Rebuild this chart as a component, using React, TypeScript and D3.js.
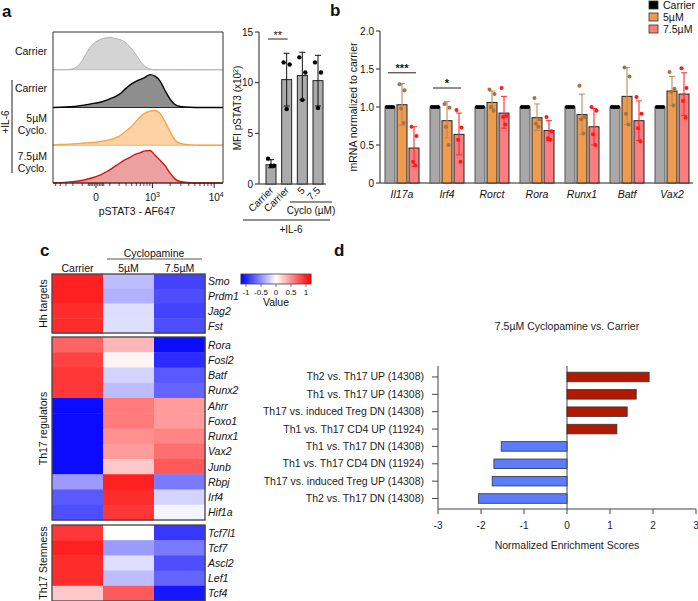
import * as d3 from 'd3';
import React from 'react';

const FONT = '"Liberation Sans", Arial, Helvetica, sans-serif';

// ---------- panel a : pSTAT3 histograms ----------
const histBins = [-565, -400, -240, -120, -40, 0, 25, 60, 100, 150, 210, 280, 370, 470, 590, 735, 905, 1110, 1360, 1650, 2000, 2400, 2900, 4200, 6000, 8600, 13700];
const histCarrier = [0, 0, 0.01, 0.16, 0.58, 0.74, 0.8, 0.84, 0.86, 0.83, 0.8, 0.74, 0.6, 0.44, 0.24, 0.09, 0.02, 0, 0, 0, 0, 0, 0, 0, 0, 0, 0];
const histIL6 = [0, 0.005, 0.02, 0.05, 0.09, 0.12, 0.14, 0.18, 0.23, 0.28, 0.36, 0.48, 0.6, 0.68, 0.74, 0.8, 0.87, 0.83, 0.7, 0.45, 0.22, 0.08, 0.03, 0.005, 0, 0, 0];
const hist5 = [0.01, 0.02, 0.03, 0.05, 0.07, 0.08, 0.1, 0.12, 0.15, 0.19, 0.25, 0.35, 0.46, 0.6, 0.75, 0.85, 0.9, 0.92, 0.84, 0.62, 0.36, 0.14, 0.05, 0.01, 0, 0, 0];
const hist75 = [0.005, 0.01, 0.03, 0.06, 0.12, 0.17, 0.21, 0.28, 0.35, 0.44, 0.53, 0.61, 0.68, 0.76, 0.8, 0.85, 0.86, 0.74, 0.6, 0.46, 0.26, 0.11, 0.04, 0.005, 0, 0, 0];
const histMajorTicks = [0, 1000, 10000];
const histMinorTicks = [-500, -400, -300, -200, -100, -50, -40, -30, -20, -10, 10, 20, 30, 40, 50, 100, 200, 300, 400, 500, 600, 700, 800, 900, 2000, 3000, 4000, 5000, 6000, 7000, 8000, 9000];

// ---------- panel a : MFI bars ----------
const mfiCats = ['Carrier', 'Carrier ', '5', '7.5'];
const mfiMean = [1.9, 10.3, 10.7, 10.2];
const mfiLo = [1.6, 7.7, 8.3, 7.7];
const mfiHi = [2.4, 12.9, 13.0, 12.7];
const mfiDots = [[2.5, 1.8, 1.8], [12.0, 11.8, 7.4], [12.5, 11.0, 8.3], [12.0, 11.0, 7.5]];
const mfiTicks = [0, 5, 10, 15];

// ---------- panel b : mRNA ----------
const genesB = ['Il17a', 'Irf4', 'Rorct', 'Rora', 'Runx1', 'Batf', 'Vax2'];
const mean5 = [1.03, 0.82, 1.06, 0.86, 0.9, 1.14, 1.21];
const lo5 = [0.76, 0.59, 0.98, 0.69, 0.64, 0.77, 1.02];
const hi5 = [1.31, 1.07, 1.21, 1.04, 1.17, 1.52, 1.4];
const dots5 = [[1.3, 1.22, 0.98, 0.79], [1.04, 0.99, 0.74, 0.5], [1.23, 1.17, 1.0, 0.95], [1.12, 0.84, 0.78, 0.74], [1.28, 0.87, 0.84, 0.65], [1.52, 1.4, 0.91, 0.77], [1.46, 1.24, 1.2, 1.02]];
const mean75 = [0.46, 0.64, 0.92, 0.69, 0.74, 0.82, 1.17];
const lo75 = [0.22, 0.37, 0.72, 0.56, 0.5, 0.56, 0.89];
const hi75 = [0.74, 0.92, 1.14, 0.82, 0.98, 1.08, 1.45];
const dots75 = [[0.74, 0.62, 0.28, 0.23], [0.96, 0.73, 0.57, 0.28], [1.25, 0.88, 0.87, 0.77], [0.87, 0.68, 0.59, 0.57], [1.0, 0.95, 0.64, 0.5], [1.13, 0.91, 0.72, 0.55], [1.51, 1.25, 1.08, 0.86]];
const mrnaTicks = [0, 0.5, 1.0, 1.5, 2.0];

// ---------- panel c : heatmap ----------
const heatCols = ['Carrier', '5µM', '7.5µM'];
const hhGenes = ['Smo', 'Prdm1', 'Jag2', 'Fst'];
const hhValues = [[1.0, -0.3, -0.85], [1.0, -0.35, -0.8], [0.95, -0.15, -0.85], [0.95, -0.15, -0.8]];
const regGenes = ['Rora', 'Fosl2', 'Batf', 'Runx2', 'Ahrr', 'Foxo1', 'Runx1', 'Vax2', 'Junb', 'Rbpj', 'Irf4', 'Hif1a'];
const regValues = [[0.7, 0.33, -1.1], [0.85, 0.05, -0.95], [0.9, -0.2, -0.75], [0.9, -0.3, -0.7], [-1.1, 0.6, 0.45], [-1.1, 0.6, 0.45], [-1.1, 0.5, 0.55], [-1.1, 0.45, 0.65], [-1.1, 0.25, 0.75], [-0.45, 1.0, -0.6], [-0.75, 0.95, -0.2], [-0.8, 0.9, -0.05]];
const stemGenes = ['Tcf7l1', 'Tcf7', 'Ascl2', 'Lef1', 'Tcf4'];
const stemValues = [[0.9, 0.0, -0.9], [1.0, -0.45, -0.6], [0.95, -0.15, -0.8], [0.95, -0.3, -0.7], [0.25, 0.75, -1.05]];
const valueTicks = [-1, -0.5, 0, 0.5, 1];

// ---------- panel d : GSEA ----------
const gseaSets = [
  'Th2 vs. Th17 UP (14308)',
  'Th1 vs. Th17 UP (14308)',
  'Th17 vs. induced Treg DN (14308)',
  'Th1 vs. Th17 CD4 UP (11924)',
  'Th1 vs. Th17 DN (14308)',
  'Th1 vs. Th17 CD4 DN (11924)',
  'Th17 vs. induced Treg UP (14308)',
  'Th2 vs. Th17 DN (14308)',
];
const gseaNES = [1.91, 1.61, 1.4, 1.16, -1.53, -1.7, -1.74, -2.06];
const nesTicks = [-3, -2, -1, 0, 1, 2, 3];

const txt = (extra: any = {}) => ({ fontFamily: FONT, fill: '#111', ...extra });

function PanelA() {
  const x = d3.scaleSymlog().constant(160).domain([-565, 13700]).range([53, 223]);
  const rows = d3.scaleBand<number>().domain([0, 1, 2, 3]).range([32, 183]);
  const series = [histCarrier, histIL6, hist5, hist75];
  const fills = ['#d4d4d4', '#8e8e8e', '#fdd3a6', '#eca1a1'];
  const strokes = ['#b4b4b4', '#000', '#f9a445', '#d51515'];
  return (
    <g>
      <text x={2} y={17} style={txt({ fontSize: 17, fontWeight: 'bold' })}>a</text>
      {series.map((h, i) => {
        const base = (rows(i) as number) + rows.bandwidth();
        const y = d3.scaleLinear().domain([0, 1]).range([base, rows(i) as number]);
        const area = d3.area<number>().x((_, j) => x(histBins[j])).y0(base).y1(d => y(d)).curve(d3.curveMonotoneX);
        const line = d3.line<number>().x((_, j) => x(histBins[j])).y(d => y(d)).curve(d3.curveMonotoneX);
        return (
          <g key={i}>
            <path d={area(h) || ''} fill={fills[i]} />
            <path d={line(h) || ''} fill="none" stroke={strokes[i]} strokeWidth={i === 0 ? 1 : 1.4} />
            <line x1={53} x2={223} y1={base} y2={base} stroke={strokes[i]} strokeWidth={0.8} />
          </g>
        );
      })}
      <path d="M53,183V32H223V183" fill="none" stroke="#333" strokeWidth={1} />
      <line x1={53} x2={223} y1={183} y2={183} stroke="#222" strokeWidth={1.2} />
      {histMinorTicks.map(t => (
        <line key={t} x1={x(t)} x2={x(t)} y1={183} y2={186} stroke="#222" strokeWidth={0.8} />
      ))}
      {histMajorTicks.map(t => (
        <line key={t} x1={x(t)} x2={x(t)} y1={183} y2={188} stroke="#222" strokeWidth={1} />
      ))}
      <text x={x(0)} y={201} textAnchor="middle" style={txt({ fontSize: 10 })}>0</text>
      <text x={x(1000)} y={201} textAnchor="middle" style={txt({ fontSize: 10 })}>10<tspan dy={-4} fontSize={7}>3</tspan></text>
      <text x={x(10000) + 2} y={201} textAnchor="middle" style={txt({ fontSize: 10 })}>10<tspan dy={-4} fontSize={7}>4</tspan></text>
      <text x={137} y={215} textAnchor="middle" style={txt({ fontSize: 10.5 })}>pSTAT3 - AF647</text>
      {/* row labels */}
      <text x={47} y={55} textAnchor="end" style={txt({ fontSize: 10.5 })}>Carrier</text>
      <text x={47} y={92} textAnchor="end" style={txt({ fontSize: 10.5 })}>Carrier</text>
      <text x={47} y={122} textAnchor="end" style={txt({ fontSize: 10.5 })}>5µM</text>
      <text x={47} y={134} textAnchor="end" style={txt({ fontSize: 10.5 })}>Cyclo.</text>
      <text x={47} y={160} textAnchor="end" style={txt({ fontSize: 10.5 })}>7.5µM</text>
      <text x={47} y={172} textAnchor="end" style={txt({ fontSize: 10.5 })}>Cyclo.</text>
      <line x1={12} x2={12} y1={80} y2={173} stroke="#222" strokeWidth={1} />
      <text transform="translate(9,122) rotate(-90)" textAnchor="middle" style={txt({ fontSize: 10 })}>+IL-6</text>
    </g>
  );
}

function PanelABars() {
  const y = d3.scaleLinear().domain([0, 15]).range([184, 32]);
  const x = d3.scalePoint<string>().domain(mfiCats).range([271, 318]);
  const bw = 10;
  const jitter = [-3, 3, 0];
  return (
    <g>
      <line x1={259} x2={259} y1={y(0)} y2={y(15)} stroke="#222" />
      <line x1={259} x2={326} y1={y(0)} y2={y(0)} stroke="#222" />
      {mfiTicks.map(t => (
        <g key={t}>
          <line x1={255} x2={259} y1={y(t)} y2={y(t)} stroke="#222" />
          <text x={253} y={y(t) + 3.5} textAnchor="end" style={txt({ fontSize: 10 })}>{t}</text>
        </g>
      ))}
      <text transform={`translate(241,${y(7.5)}) rotate(-90)`} textAnchor="middle" style={txt({ fontSize: 10 })}>
        MFI pSTAT3 (x10<tspan dy={-3} fontSize={7}>2</tspan><tspan dy={3}>)</tspan>
      </text>
      {mfiCats.map((c, i) => {
        const cx = x(c) as number;
        return (
          <g key={c}>
            <rect x={cx - bw / 2} y={y(mfiMean[i])} width={bw} height={y(0) - y(mfiMean[i])} fill="#ababab" stroke="#222" strokeWidth={1} />
            <line x1={cx} x2={cx} y1={y(mfiLo[i])} y2={y(mfiHi[i])} stroke="#111" strokeWidth={1} />
            <line x1={cx - 3} x2={cx + 3} y1={y(mfiLo[i])} y2={y(mfiLo[i])} stroke="#111" />
            <line x1={cx - 3} x2={cx + 3} y1={y(mfiHi[i])} y2={y(mfiHi[i])} stroke="#111" />
            {mfiDots[i].map((d, j) => (
              <circle key={j} cx={cx + jitter[j]} cy={y(d)} r={2.2} fill="#000" />
            ))}
            <text transform={`translate(${cx + 3},${191}) rotate(-45)`} textAnchor="end" style={txt({ fontSize: 10 })}>{c.trim()}</text>
          </g>
        );
      })}
      <line x1={x('Carrier') as number - 3} x2={x('Carrier ') as number + 1} y1={39} y2={39} stroke="#222" />
      <text x={((x('Carrier') as number) + (x('Carrier ') as number)) / 2 - 1} y={39} textAnchor="middle" style={txt({ fontSize: 11 })}>**</text>
      <line x1={290} x2={332} y1={202} y2={202} stroke="#222" />
      <text x={311} y={214} textAnchor="middle" style={txt({ fontSize: 10 })}>Cyclo (µM)</text>
      <line x1={243} x2={330} y1={220} y2={220} stroke="#222" />
      <text x={291} y={233} textAnchor="middle" style={txt({ fontSize: 10 })}>+IL-6</text>
    </g>
  );
}

function PanelB() {
  const y = d3.scaleLinear().domain([0, 2]).range([183, 31]);
  const x = d3.scalePoint<string>().domain(genesB).range([402, 672]);
  const bw = 10;
  const off = 12;
  const jit = [-2.5, 2.5, -1, 1.5];
  const capJit = [-3.2, -1, 1, 3.2];
  return (
    <g>
      <text x={330} y={16} style={txt({ fontSize: 17, fontWeight: 'bold' })}>b</text>
      <line x1={380} x2={380} y1={y(0)} y2={y(2)} stroke="#222" />
      <line x1={380} x2={693} y1={y(0)} y2={y(0)} stroke="#222" />
      {mrnaTicks.map(t => (
        <g key={t}>
          <line x1={376} x2={380} y1={y(t)} y2={y(t)} stroke="#222" />
          <text x={374} y={y(t) + 3.5} textAnchor="end" style={txt({ fontSize: 10 })}>{t === 0 ? '0' : t.toFixed(1)}</text>
        </g>
      ))}
      <text transform={`translate(357,${y(1)}) rotate(-90)`} textAnchor="middle" style={txt({ fontSize: 10.5 })}>mRNA normalized to carrier</text>
      {genesB.map((g, i) => {
        const c = x(g) as number;
        const c0 = c - off;
        const c2 = c + off;
        return (
          <g key={g}>
            <rect x={c0 - bw / 2} y={y(1)} width={bw} height={y(0) - y(1)} fill="#a8a8a8" stroke="#555" strokeWidth={1} />
            {capJit.map((j, k) => (
              <circle key={k} cx={c0 + j} cy={y(1)} r={1.9} fill="#000" />
            ))}
            <rect x={c - bw / 2} y={y(mean5[i])} width={bw} height={y(0) - y(mean5[i])} fill="#ee9b52" stroke="#222" strokeWidth={1} />
            <line x1={c} x2={c} y1={y(lo5[i])} y2={y(hi5[i])} stroke="#b88a5c" strokeWidth={1.1} />
            <line x1={c - 3} x2={c + 3} y1={y(lo5[i])} y2={y(lo5[i])} stroke="#b88a5c" />
            <line x1={c - 3} x2={c + 3} y1={y(hi5[i])} y2={y(hi5[i])} stroke="#b88a5c" />
            {dots5[i].map((d, k) => (
              <circle key={k} cx={c + jit[k]} cy={y(d)} r={2} fill="#a8713e" />
            ))}
            <rect x={c2 - bw / 2} y={y(mean75[i])} width={bw} height={y(0) - y(mean75[i])} fill="#fb7d7d" stroke="#222" strokeWidth={1} />
            <line x1={c2} x2={c2} y1={y(lo75[i])} y2={y(hi75[i])} stroke="#ff2a2a" strokeWidth={1.1} />
            <line x1={c2 - 3} x2={c2 + 3} y1={y(lo75[i])} y2={y(lo75[i])} stroke="#ff2a2a" />
            <line x1={c2 - 3} x2={c2 + 3} y1={y(hi75[i])} y2={y(hi75[i])} stroke="#ff2a2a" />
            {dots75[i].map((d, k) => (
              <circle key={k} cx={c2 + jit[k]} cy={y(d)} r={2} fill="#ff1a1a" />
            ))}
            <text x={c} y={198} textAnchor="middle" style={txt({ fontSize: 10.5, fontStyle: 'italic' })}>{g}</text>
          </g>
        );
      })}
      {/* significance */}
      <line x1={(x('Il17a') as number) - off - 2} x2={(x('Il17a') as number) + off + 2} y1={y(1.45)} y2={y(1.45)} stroke="#222" />
      <text x={x('Il17a') as number} y={y(1.45) - 1} textAnchor="middle" style={txt({ fontSize: 11, fontWeight: 'bold' })}>***</text>
      <line x1={(x('Irf4') as number) - off - 2} x2={(x('Irf4') as number) + off + 2} y1={y(1.25)} y2={y(1.25)} stroke="#222" />
      <text x={x('Irf4') as number} y={y(1.25) - 1} textAnchor="middle" style={txt({ fontSize: 11, fontWeight: 'bold' })}>*</text>
      {/* legend */}
      {[['Carrier', '#000'], ['5µM', '#ee9b52'], ['7.5µM', '#fb7d7d']].map(([l, c], i) => (
        <g key={l}>
          <rect x={649} y={1 + i * 12} width={9} height={8} fill={c} stroke="#333" strokeWidth={0.8} />
          <text x={663} y={9 + i * 12} style={txt({ fontSize: 10.5 })}>{l}</text>
        </g>
      ))}
    </g>
  );
}

function PanelC() {
  const x = d3.scaleBand<string>().domain(heatCols).range([52, 205]);
  const color = d3.scaleLinear<string>().domain([-1.15, 0, 1.15]).range(['#0000ff', '#ffffff', '#ff0000']).clamp(true);
  const blocks = [
    { genes: hhGenes, vals: hhValues, top: 274, bottom: 333, label: 'Hh targets' },
    { genes: regGenes, vals: regValues, top: 337, bottom: 520, label: 'Th17 regulators' },
    { genes: stemGenes, vals: stemValues, top: 525, bottom: 601, label: 'Th17 Stemness' },
  ];
  const cb = d3.scaleLinear().domain([-1, 1]).range([246, 306]);
  const stops = d3.range(0, 1.0001, 0.1);
  return (
    <g>
      <defs>
        <linearGradient id="cbar" x1="0" x2="1" y1="0" y2="0">
          {stops.map(s => (
            <stop key={s} offset={s} stopColor={color(-1.17 + s * 2.34)} />
          ))}
        </linearGradient>
      </defs>
      <text x={40} y={256} style={txt({ fontSize: 17, fontWeight: 'bold' })}>c</text>
      <text x={154} y={257} textAnchor="middle" style={txt({ fontSize: 10.5 })}>Cyclopamine</text>
      <line x1={107} x2={202} y1={259} y2={259} stroke="#555" strokeWidth={1} />
      {heatCols.map(c => (
        <text key={c} x={(x(c) as number) + x.bandwidth() / 2} y={272} textAnchor="middle" style={txt({ fontSize: 10.5 })}>{c}</text>
      ))}
      {blocks.map(b => {
        const y = d3.scaleBand<string>().domain(b.genes).range([b.top, b.bottom]);
        return (
          <g key={b.label}>
            {b.genes.map((g, i) => (
              <g key={g}>
                {heatCols.map((c, j) => (
                  <rect key={c} x={x(c)} y={y(g)} width={x.bandwidth() + 0.5} height={y.bandwidth() + 0.5} fill={color(b.vals[i][j])} />
                ))}
                <text x={208} y={(y(g) as number) + y.bandwidth() / 2 + 4} style={txt({ fontSize: 10.5, fontStyle: 'italic' })}>{g}</text>
              </g>
            ))}
            <rect x={52} y={b.top} width={153} height={b.bottom - b.top} fill="none" stroke="#444" strokeWidth={1.3} />
            <text transform={`translate(47,${(b.top + b.bottom) / 2}) rotate(-90)`} textAnchor="middle" style={txt({ fontSize: 10.5 })}>{b.label}</text>
          </g>
        );
      })}
      <rect x={cb(-1.17)} y={274} width={cb(1.17) - cb(-1.17)} height={10} fill="url(#cbar)" stroke="#444" strokeWidth={0.8} />
      {valueTicks.map(t => (
        <g key={t}>
          <line x1={cb(t)} x2={cb(t)} y1={284} y2={287} stroke="#444" strokeWidth={0.7} />
          <text x={cb(t)} y={295} textAnchor="middle" style={txt({ fontSize: 8 })}>{t}</text>
        </g>
      ))}
      <text x={cb(0)} y={306} textAnchor="middle" style={txt({ fontSize: 10.5 })}>Value</text>
    </g>
  );
}

function PanelD() {
  const x = d3.scaleLinear().domain([-3, 3]).range([438, 696]);
  const y = d3.scaleBand<string>().domain(gseaSets).range([368.3, 507.2]).paddingInner(0.45).paddingOuter(0.225);
  return (
    <g>
      <text x={334} y={256} style={txt({ fontSize: 17, fontWeight: 'bold' })}>d</text>
      <text x={x(0)} y={330} textAnchor="middle" style={txt({ fontSize: 10.5, fill: '#222' })}>7.5µM Cyclopamine vs. Carrier</text>
      <line x1={x(-3)} x2={x(-3)} y1={366} y2={509} stroke="#444" />
      <line x1={x(-3)} x2={x(3)} y1={509} y2={509} stroke="#444" />
      <line x1={x(0)} x2={x(0)} y1={366} y2={509} stroke="#444" />
      {nesTicks.map(t => (
        <g key={t}>
          <line x1={x(t)} x2={x(t)} y1={509} y2={514} stroke="#444" />
          <text x={x(t)} y={529} textAnchor="middle" style={txt({ fontSize: 10, fill: '#222' })}>{t}</text>
        </g>
      ))}
      <text x={x(0)} y={549} textAnchor="middle" style={txt({ fontSize: 10.5, fill: '#222' })}>Normalized Enrichment Scores</text>
      {gseaSets.map((s, i) => {
        const v = gseaNES[i];
        const yy = y(s) as number;
        return (
          <g key={s}>
            <rect x={Math.min(x(0), x(v))} y={yy} width={Math.abs(x(v) - x(0))} height={y.bandwidth()} fill={v > 0 ? '#b11a00' : '#5b7cfb'} stroke="#333" strokeWidth={0.8} />
            <line x1={x(-3) - 6} x2={x(-3)} y1={yy + y.bandwidth() / 2} y2={yy + y.bandwidth() / 2} stroke="#444" />
            <text x={x(-3) - 14} y={yy + y.bandwidth() / 2 + 3.5} textAnchor="end" style={txt({ fontSize: 10.5, fill: '#222' })}>{s}</text>
          </g>
        );
      })}
    </g>
  );
}

export default function App() {
  return (
    <svg width={698} height={601} viewBox="0 0 698 601" style={{ position: 'absolute', left: 0, top: 0, background: '#fff', display: 'block' }}>
      <rect width={698} height={601} fill="#fff" />
      <PanelA />
      <PanelABars />
      <PanelB />
      <PanelC />
      <PanelD />
    </svg>
  );
}
